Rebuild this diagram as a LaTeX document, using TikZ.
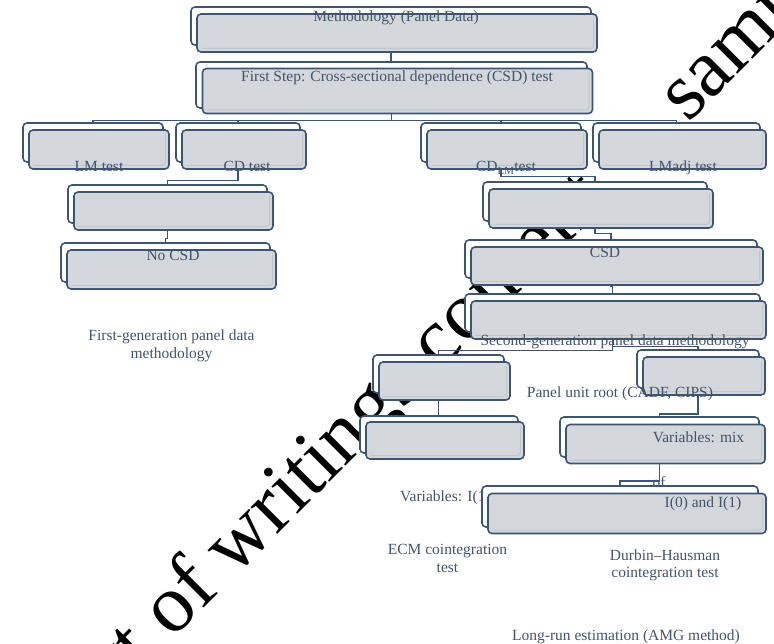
\documentclass[tikz,border=0pt]{standalone}
\usepackage{fontspec}
\setmainfont{Liberation Serif}
\definecolor{boxline}{HTML}{3D5572}
\definecolor{boxfill}{HTML}{D4D7DB}
\definecolor{bevel}{HTML}{C3C6CA}
\definecolor{txt}{HTML}{44546A}
\tikzset{%
	backbox/.style  = {draw=boxline, fill=white, line width=1.6pt, rectangle,
		rounded corners=4pt, inner sep=0pt}, % box behind
	frontbox/.style = {draw=boxline, fill=boxfill, line width=1.6pt, rectangle,
		rounded corners=4pt, inner sep=0pt,
		path picture={\draw[bevel, line width=1pt, rounded corners=3pt]
			([shift={(4pt,3.5pt)}]path picture bounding box.south west)
			-- ([shift={(-3.5pt,3.5pt)}]path picture bounding box.south east)
			-- ([shift={(-3.5pt,-4pt)}]path picture bounding box.north east);}}, % gray box
	link/.style     = {draw=boxline, line width=1.4pt}, % connector
	lbl/.style      = {text=txt, font=\fontsize{15.5}{17.5}\selectfont,
		inner sep=0pt, align=center}, % label
	wmark/.style    = {text=black, font=\fontsize{82}{82}\selectfont, inner sep=0pt}
}

\begin{document}
\begin{tikzpicture}[x=1pt,y=-1pt]
	\useasboundingbox (0,0) rectangle (774,644);

	% watermark
	\begin{scope}
		\clip (0,0) rectangle (774,644);
		\node[wmark, rotate=45, anchor=base west] (wm) at (64,748) {Part of writings content,\hspace{0.85em} sample};
	\end{scope}

	\node[lbl, anchor=base west] (t-var) at (400,501) {Variables: I(1)};

	% boxes behind
	\node[backbox, minimum width=400pt, minimum height=38pt] (meth-b)   at (391,26)    {};
	\node[backbox, minimum width=391pt, minimum height=46pt] (step-b)   at (391.5,85)  {};
	\node[backbox, minimum width=140pt, minimum height=39pt] (lm-b)     at (93,142.5)  {};
	\node[backbox, minimum width=124pt, minimum height=39pt] (cd-b)     at (238,142.5) {};
	\node[backbox, minimum width=160pt, minimum height=39pt] (cdlm-b)   at (501,142.5) {};
	\node[backbox, minimum width=167pt, minimum height=39pt] (lmadj-b)  at (676.5,142.5) {};
	\node[backbox, minimum width=199pt, minimum height=38pt] (lgap-b)   at (167.5,204) {};
	\node[backbox, minimum width=209pt, minimum height=39pt] (nocsd-b)  at (165.5,262.5) {};
	\node[backbox, minimum width=224pt, minimum height=39pt] (rgap-b)   at (595,201.5) {};
	\node[backbox, minimum width=292pt, minimum height=38pt] (csd-b)    at (611,259)   {};
	\node[backbox, minimum width=295pt, minimum height=38pt] (second-b) at (612.5,313) {};
	\node[backbox, minimum width=131pt, minimum height=38pt] (ecm-b)    at (438.5,374) {};
	\node[backbox, minimum width=158pt, minimum height=37pt] (ecmb-b)   at (439,434.5) {};
	\node[backbox, minimum width=122pt, minimum height=38pt] (unit-b)   at (698,369)   {};
	\node[backbox, minimum width=199pt, minimum height=40pt] (mix-b)    at (659.5,437) {};
	\node[backbox, minimum width=276pt, minimum height=41pt] (order-b)  at (620,506.5) {};

	% connectors
	\draw[link] (meth-b.south) -- (meth-b.south |- step-b.north);
	\draw[link] (step-b.south) -- ++(0,12) -| (lm-b.north);
	\draw[link] (step-b.south) -- ++(0,12) -| (cd-b.north);
	\draw[link] (step-b.south) -- ++(0,12) -| (cdlm-b.north);
	\draw[link] (step-b.south) -- ++(0,12) -| (lmadj-b.north);
	\draw[link] (cd-b.south) -- ++(0,18) -| (lgap-b.north);
	\draw[link] (lgap-b.south) -- ++(0,15) -| (nocsd-b.north);
	\draw[link] (cdlm-b.south) -- ++(0,14) -| (rgap-b.north);
	\draw[link] (rgap-b.south) -- ++(0,12) -| (csd-b.north);
	\draw[link] (csd-b.south) -- ++(0,8) -| (second-b.north);
	\draw[link] (second-b.south) -- ++(0,18) -| (ecm-b.north);
	\draw[link] (second-b.south) -- ++(0,14) -| (unit-b.north);
	\draw[link] (ecm-b.south) -- (ecm-b.south |- ecmb-b.north);
	\draw[link] (unit-b.south) -- ++(0,25) -| (mix-b.north);
	\draw[link] (mix-b.south) -- ++(0,23) -| (order-b.north);

	% gray boxes
	\node[frontbox, minimum width=400pt, minimum height=38pt] (meth)   at ([xshift=6pt,yshift=-7pt]meth-b.center)   {};
	\node[frontbox, minimum width=390pt, minimum height=45pt] (step)   at ([xshift=6pt,yshift=-6pt]step-b.center)   {};
	\node[frontbox, minimum width=140pt, minimum height=39pt] (lm)     at ([xshift=6pt,yshift=-7pt]lm-b.center)     {};
	\node[frontbox, minimum width=124pt, minimum height=39pt] (cd)     at ([xshift=6pt,yshift=-7pt]cd-b.center)     {};
	\node[frontbox, minimum width=160pt, minimum height=39pt] (cdlm)   at ([xshift=6pt,yshift=-7pt]cdlm-b.center)   {};
	\node[frontbox, minimum width=167pt, minimum height=39pt] (lmadj)  at ([xshift=6pt,yshift=-7pt]lmadj-b.center)  {};
	\node[frontbox, minimum width=199pt, minimum height=38pt] (lgap)   at ([xshift=6pt,yshift=-7pt]lgap-b.center)   {};
	\node[frontbox, minimum width=209pt, minimum height=39pt] (nocsd)  at ([xshift=6pt,yshift=-7pt]nocsd-b.center)  {};
	\node[frontbox, minimum width=224pt, minimum height=39pt] (rgap)   at ([xshift=6pt,yshift=-7pt]rgap-b.center)   {};
	\node[frontbox, minimum width=292pt, minimum height=38pt] (csd)    at ([xshift=6pt,yshift=-7pt]csd-b.center)    {};
	\node[frontbox, minimum width=295pt, minimum height=38pt] (second) at ([xshift=6pt,yshift=-7pt]second-b.center) {};
	\node[frontbox, minimum width=131pt, minimum height=38pt] (ecm)    at ([xshift=6pt,yshift=-7pt]ecm-b.center)    {};
	\node[frontbox, minimum width=158pt, minimum height=37pt] (ecmb)   at ([xshift=6pt,yshift=-6pt]ecmb-b.center)   {};
	\node[frontbox, minimum width=122pt, minimum height=38pt] (unit)   at ([xshift=6pt,yshift=-7pt]unit-b.center)   {};
	\node[frontbox, minimum width=199pt, minimum height=39pt] (mix)    at ([xshift=6pt,yshift=-7pt]mix-b.center)    {};
	\node[frontbox, minimum width=278pt, minimum height=40pt] (order)  at ([xshift=7pt,yshift=-7pt]order-b.center)  {};

	% labels
	\node[lbl, anchor=base] (t-meth)   at (396,21.5)  {Methodology (Panel Data)};
	\node[lbl, anchor=base] (t-step)   at (397,81.5)  {First Step: Cross-sectional dependence (CSD) test};
	\node[lbl, anchor=base] (t-lm)     at (99,172)    {LM test};
	\node[lbl, anchor=base] (t-cd)     at (247,172)   {CD test};
	\node[lbl, anchor=base] (t-cdlm)   at (506,172)   {CD\textsubscript{LM}test};
	\node[lbl, anchor=base] (t-lmadj)  at (683,172)   {LMadj test};
	\node[lbl, anchor=base] (t-nocsd)  at (173,260.5) {No CSD};
	\node[lbl, anchor=base] (t-csd)    at (605,258)   {CSD};
	\node[lbl, anchor=base] (t-second) at (615,345)   {Second-generation panel data methodology};
	\node[lbl, anchor=base] (t-unit)   at (620,397)   {Panel unit root (CADF, CIPS)};
	\node[lbl, anchor=base] (t-mix)    at (698.5,442) {Variables: mix};
	\node[lbl, anchor=base] (t-of)     at (659,487)   {of};
	\node[lbl, anchor=base] (t-order)  at (703,507)   {I(0) and I(1)};
	\node[lbl, anchor=north] (t-first) at (171.5,330) {First-generation panel data\\ methodology};
	\node[lbl, anchor=north] (t-ecm)   at (447.5,544.5) {ECM cointegration\\ test};
	\node[lbl, anchor=north] (t-dh)    at (665,549.5) {Durbin--Hausman\\ cointegration test};
	\node[lbl, anchor=base] (t-long)   at (626,640.5) {Long-run estimation (AMG method)};
\end{tikzpicture}
\end{document}
